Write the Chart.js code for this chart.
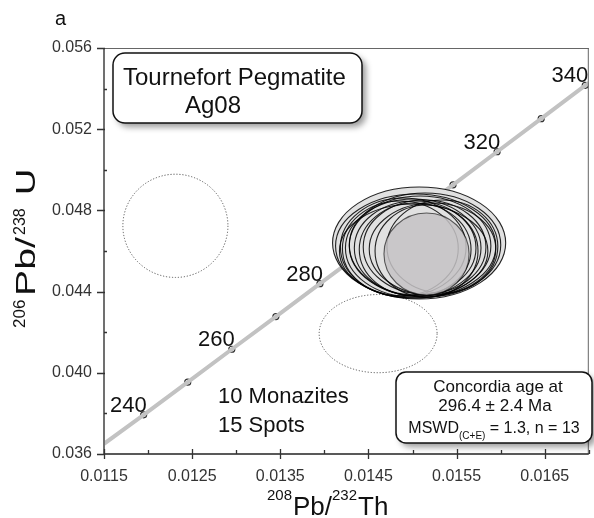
<!DOCTYPE html>
<html>
<head>
<meta charset="utf-8">
<script src="https://cdn.jsdelivr.net/npm/chart.js@4.4.1/dist/chart.umd.min.js"></script>
<style>
  html, body { margin: 0; padding: 0; background: #fff; }
</style>
</head>
<body>
<canvas id="concordia" width="594" height="518"></canvas>
<script>
// concordia markers (every 10 Ma)
var ages = [240, 250, 260, 270, 280, 290, 300, 310, 320, 330, 340];
var ageX = [0.01195, 0.01245, 0.01295, 0.01345, 0.01395, 0.01445, 0.01495, 0.01546, 0.01596, 0.01646, 0.01696];
var ageY = [0.03793, 0.03954, 0.04116, 0.04277, 0.04439, 0.04601, 0.04764, 0.04926, 0.05089, 0.05252, 0.05416];
var labeledAges = [240, 260, 280, 320, 340];

// where the curve meets the frame
var curveX = [0.0115, 0.01195, 0.01245, 0.01295, 0.01345, 0.01395, 0.01445, 0.01495, 0.01546, 0.01596, 0.01646, 0.01696, 0.0170];
var curveY = [0.03650, 0.03793, 0.03954, 0.04116, 0.04277, 0.04439, 0.04601, 0.04764, 0.04926, 0.05089, 0.05252, 0.05416, 0.05428];

// analysis ellipses (centre, half axes)
var ellCx = [0.015075, 0.015036, 0.014895, 0.015008, 0.015086, 0.015030, 0.015030, 0.015137, 0.015227, 0.015159, 0.014862, 0.015142, 0.015013, 0.015339];
var ellCy = [0.046394, 0.046246, 0.046197, 0.046148, 0.046246, 0.046148, 0.046074, 0.046197, 0.046099, 0.046000, 0.046123, 0.046296, 0.046000, 0.046222];
var ellRx = [0.000982, 0.000909, 0.000713, 0.000769, 0.000803, 0.000690, 0.000634, 0.000696, 0.000718, 0.000584, 0.000657, 0.000859, 0.000842, 0.000629];
var ellRy = [0.002759, 0.002562, 0.002414, 0.002414, 0.002463, 0.002315, 0.002291, 0.002315, 0.002266, 0.002266, 0.002340, 0.002562, 0.002315, 0.002291];

// concordia age ellipse
var ageEll = [0.015159, 0.045852, 0.000483, 0.002020];

// rejected spots (dotted)
var rejCx = [0.01231, 0.01461];
var rejCy = [0.04724, 0.04193];
var rejRx = [0.000596, 0.000669];
var rejRy = [0.002543, 0.001926];

var xMajor = [0.0115, 0.0125, 0.0135, 0.0145, 0.0155, 0.0165];
var xMinor = [0.0120, 0.0130, 0.0140, 0.0150, 0.0160, 0.0170];
var yMajor = [0.036, 0.040, 0.044, 0.048, 0.052, 0.056];
var yMinor = [0.038, 0.042, 0.046, 0.050, 0.054];

var FONT = "'Liberation Sans', Arial, sans-serif";

function ellPath(chart, cx, cy, rx, ry) {
	var xs = chart.scales.x, ys = chart.scales.y;
	var px = xs.getPixelForValue(cx), py = ys.getPixelForValue(cy);
	var prx = Math.abs(xs.getPixelForValue(cx + rx) - px);
	var pry = Math.abs(ys.getPixelForValue(cy + ry) - py);
	chart.ctx.beginPath();
	chart.ctx.ellipse(px, py, prx, pry, 0, 0, Math.PI * 2);
}

function box(ctx, x, y, w, h, r) {
	ctx.save();
	ctx.beginPath();
	ctx.roundRect(x, y, w, h, r);
	ctx.shadowColor = 'rgba(0,0,0,0.4)';
	ctx.shadowBlur = 6;
	ctx.shadowOffsetX = 4;
	ctx.shadowOffsetY = 4;
	ctx.fillStyle = '#fff';
	ctx.fill();
	ctx.shadowColor = 'transparent';
	ctx.lineWidth = 1.5;
	ctx.strokeStyle = '#111';
	ctx.stroke();
	ctx.restore();
}

function txt(ctx, s, x, y, size, align) {
	ctx.font = size + 'px ' + FONT;
	ctx.textAlign = align || 'left';
	ctx.textBaseline = 'alphabetic';
	ctx.fillText(s, x, y);
}

var ellipsePlugin = {
	id: 'ellipses',
	afterDatasetsDraw: function(chart) {
		var ctx = chart.ctx, i;
		ctx.save();
		// dotted ones first, the cluster hides part of the lower one
		ctx.setLineDash([1.2, 1.8]);
		ctx.lineWidth = 1;
		ctx.strokeStyle = '#555';
		for (i = 0; i < rejCx.length; i++) {
			ellPath(chart, rejCx[i], rejCy[i], rejRx[i], rejRy[i]);
			ctx.stroke();
		}
		ctx.setLineDash([]);
		ctx.fillStyle = '#e1e1e1';
		for (i = 0; i < ellCx.length; i++) {
			ellPath(chart, ellCx[i], ellCy[i], ellRx[i], ellRy[i]);
			ctx.fill();
		}
		ctx.strokeStyle = 'rgba(0,0,0,0.85)';
		ctx.lineWidth = 1.1;
		for (i = 0; i < ellCx.length; i++) {
			ellPath(chart, ellCx[i], ellCy[i], ellRx[i], ellRy[i]);
			ctx.stroke();
		}
		ellPath(chart, ageEll[0], ageEll[1], ageEll[2], ageEll[3]);
		ctx.fillStyle = 'rgba(196,194,196,0.85)';
		ctx.fill();
		ctx.strokeStyle = 'rgba(0,0,0,0.6)';
		ctx.stroke();
		ctx.restore();
	},
	afterDraw: function(chart) {
		var ctx = chart.ctx, a = chart.chartArea;
		var xs = chart.scales.x, ys = chart.scales.y;
		ctx.save();

		// frame
		ctx.strokeStyle = '#666';
		ctx.lineWidth = 1;
		ctx.beginPath();
		ctx.moveTo(a.left, a.top + 0.5); ctx.lineTo(a.right, a.top + 0.5);
		ctx.moveTo(a.right - 0.5, a.top); ctx.lineTo(a.right - 0.5, a.bottom);
		ctx.stroke();
		ctx.strokeStyle = '#707070';
		ctx.lineWidth = 2;
		ctx.beginPath();
		ctx.moveTo(a.left, a.top); ctx.lineTo(a.left, a.bottom);
		ctx.stroke();
		ctx.strokeStyle = '#222';
		ctx.lineWidth = 1.5;
		ctx.beginPath();
		ctx.moveTo(a.left, a.bottom); ctx.lineTo(a.right, a.bottom);
		ctx.stroke();

		// ticks
		ctx.lineWidth = 1.3;
		ctx.strokeStyle = '#333';
		ctx.beginPath();
		xMajor.forEach(function(v) {
			var p = Math.round(xs.getPixelForValue(v)) + 0.5;
			ctx.moveTo(p, a.bottom - 5); ctx.lineTo(p, a.bottom + 5);
		});
		xMinor.forEach(function(v) {
			var p = Math.round(xs.getPixelForValue(v)) + 0.5;
			ctx.moveTo(p, a.bottom - 4); ctx.lineTo(p, a.bottom);
		});
		yMajor.forEach(function(v) {
			var p = Math.round(ys.getPixelForValue(v)) + 0.5;
			ctx.moveTo(a.left - 7, p); ctx.lineTo(a.left + 1, p);
		});
		yMinor.forEach(function(v) {
			var p = Math.round(ys.getPixelForValue(v)) + 0.5;
			ctx.moveTo(a.left, p); ctx.lineTo(a.left + 3, p);
		});
		ctx.stroke();

		ctx.fillStyle = '#111';
		// age labels
		labeledAges.forEach(function(t) {
			var i = ages.indexOf(t);
			txt(ctx, String(t), xs.getPixelForValue(ageX[i]) + 3, ys.getPixelForValue(ageY[i]) - 3, 22, 'right');
		});

		txt(ctx, 'a', 55, 25, 20);

		box(ctx, 113, 53, 249, 70, 12);
		ctx.fillStyle = '#111';
		txt(ctx, 'Tournefort Pegmatite', 123, 85, 24);
		txt(ctx, 'Ag08', 185, 113, 24);

		txt(ctx, '10 Monazites', 218, 403, 22);
		txt(ctx, '15 Spots', 218, 432, 22);

		box(ctx, 396, 372, 196, 71, 10);
		ctx.fillStyle = '#111';
		txt(ctx, 'Concordia age at', 498, 392, 17, 'center');
		txt(ctx, '296.4 \u00b1 2.4 Ma', 495, 411, 17, 'center');
		ctx.font = '16px ' + FONT;
		var w1 = ctx.measureText('MSWD').width, w3 = ctx.measureText(' = 1.3, n = 13').width;
		ctx.font = '10px ' + FONT;
		var w2 = ctx.measureText('(C+E)').width;
		var x0 = 494 - (w1 + w2 + w3) / 2;
		txt(ctx, 'MSWD', x0, 433, 16);
		txt(ctx, '(C+E)', x0 + w1, 439, 10);
		txt(ctx, ' = 1.3, n = 13', x0 + w1 + w2, 433, 16);

		// x title
		txt(ctx, '208', 267, 500, 15);
		txt(ctx, 'Pb/', 293, 515, 26);
		txt(ctx, '232', 332, 500, 15);
		txt(ctx, 'Th', 358, 515, 26);

		// y title, reads bottom to top
		ctx.translate(35, 328);
		ctx.rotate(-Math.PI / 2);
		txt(ctx, '206', 0, -10, 17);
		ctx.save(); ctx.translate(32, 0); ctx.scale(1.4, 1); txt(ctx, 'Pb/', 0, 0, 28); ctx.restore();
		txt(ctx, '238', 93, -10, 16);
		ctx.save(); ctx.translate(133, 0); ctx.scale(1.3, 1); txt(ctx, 'U', 0, 0, 28); ctx.restore();

		ctx.restore();
	}
};

var curveData = curveX.map(function(x, i) { return {x: x, y: curveY[i]}; });
var markerData = ageX.map(function(x, i) { return {x: x, y: ageY[i]}; });

var ctx = document.getElementById('concordia').getContext('2d');
new Chart(ctx, {
	type: 'scatter',
	data: {
		datasets: [
		{
			label: 'Concordia',
			data: curveData,
			showLine: true,
			borderColor: '#c2c2c2',
			borderWidth: 4,
			pointRadius: 0,
			tension: 0
		},
		{
			label: 'Ma',
			data: markerData,
			showLine: false,
			pointRadius: 3,
			pointBorderWidth: 1.2,
			pointBorderColor: '#333',
			pointBackgroundColor: '#fff'
		}
		]
	},
	options: {
		responsive: false,
		animation: false,
		layout: {padding: {left: 0, top: 48, right: 1, bottom: 0}},
		plugins: {legend: {display: false}, tooltip: {enabled: false}},
		scales: {
			x: {
				type: 'linear',
				min: 0.0115,
				max: 0.017,
				grid: {display: false, drawTicks: false},
				border: {display: false},
				afterBuildTicks: function(s) { s.ticks = xMajor.map(function(v) { return {value: v}; }); },
				afterFit: function(s) { s.height = 64; },
				ticks: {
					callback: function(v) { return v.toFixed(4); },
					font: {family: FONT, size: 16},
					color: '#333',
					padding: 13,
					maxRotation: 0,
					autoSkip: false
				}
			},
			y: {
				type: 'linear',
				min: 0.036,
				max: 0.056,
				grid: {display: false, drawTicks: false},
				border: {display: false},
				afterBuildTicks: function(s) { s.ticks = yMajor.map(function(v) { return {value: v}; }); },
				afterFit: function(s) { s.width = 104; },
				ticks: {
					callback: function(v) { return v.toFixed(3); },
					font: {family: FONT, size: 16},
					color: '#333',
					padding: 12,
					autoSkip: false
				}
			}
		}
	},
	plugins: [ellipsePlugin]
});
</script>
</body>
</html>
